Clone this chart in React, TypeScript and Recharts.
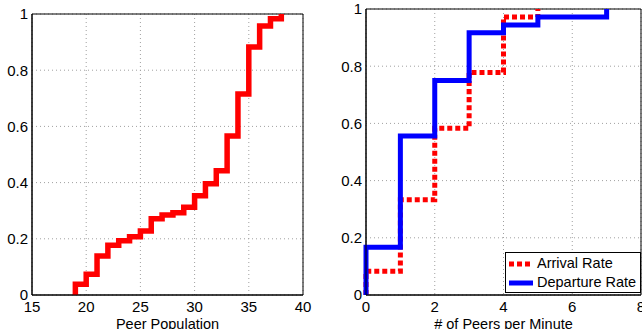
import React from 'react'
import {
  LineChart,
  Line,
  XAxis,
  YAxis,
  CartesianGrid,
  ReferenceArea,
  Legend,
} from 'recharts'

// Peer population CDF (left panel)
const popX = [19, 19, 20, 21, 22, 23, 24, 25, 26, 27, 28, 29, 30, 31, 32, 33, 34, 35, 36, 37, 38]
const popY = [0, 0.038, 0.074, 0.139, 0.177, 0.193, 0.207, 0.228, 0.271, 0.285, 0.293, 0.312, 0.353, 0.396, 0.442, 0.566, 0.715, 0.883, 0.957, 0.983, 1.0]
const popTicks = [15, 20, 25, 30, 35, 40]

// Arrival / departure rate CDFs (right panel)
const arrivalX = [0, 0, 1, 2, 3, 4, 5]
const arrivalY = [0, 0.083, 0.333, 0.583, 0.778, 0.972, 1.0]
const departureX = [0, 0, 1, 2, 3, 4, 5, 7]
const departureY = [0, 0.167, 0.556, 0.75, 0.917, 0.944, 0.972, 1.0]
const rateTicks = [0, 2, 4, 6, 8]

const yTicks = [0, 0.2, 0.4, 0.6, 0.8, 1]

const FONT = '"Liberation Sans", Arial, Helvetica, sans-serif'
const GRID = '#a0a0a0'

const zip = (xs: number[], ys: number[]) => xs.map((x, i) => ({ x, y: ys[i] }))

const popData = zip(popX, popY)
const arrivalData = zip(arrivalX, arrivalY)
const departureData = zip(departureX, departureY)

const tickStyle = { fill: '#000', fontSize: 15, fontFamily: FONT }
const labelStyle = { fill: '#000', fontSize: 14.5, fontFamily: FONT }

const RateLegend: React.FC = () => (
  <div
    style={{
      background: '#fff',
      border: '1px solid #000',
      boxSizing: 'border-box',
      width: 136,
      height: 41,
      fontFamily: FONT,
      fontSize: 14.5,
      color: '#000',
      padding: '1px 0 0 2px',
      lineHeight: '19px',
      whiteSpace: 'nowrap',
    }}
  >
    <div style={{ display: 'flex', alignItems: 'center' }}>
      <svg width={26} height={10} style={{ marginRight: 3 }}>
        <line x1={1} y1={5} x2={25} y2={5} stroke="#ff0000" strokeWidth={5} strokeDasharray="5 3" />
      </svg>
      Arrival Rate
    </div>
    <div style={{ display: 'flex', alignItems: 'center' }}>
      <svg width={26} height={10} style={{ marginRight: 3 }}>
        <line x1={1} y1={5} x2={25} y2={5} stroke="#0000ff" strokeWidth={5} />
      </svg>
      Departure Rate
    </div>
  </div>
)

export default function App() {
  return (
    <div style={{ position: 'absolute', left: 0, top: 0, width: 642, height: 329, background: '#fff', overflow: 'hidden' }}>
      <div style={{ position: 'absolute', left: 0, top: 0 }}>
        <LineChart width={320} height={329} data={popData} margin={{ top: 14, right: 17, left: 0, bottom: 0 }}>
          <CartesianGrid stroke={GRID} strokeDasharray="1 3" />
          <XAxis
            type="number"
            dataKey="x"
            domain={[15, 40]}
            ticks={popTicks}
            interval={0}
            height={34}
            tickLine={false}
            tickSize={4}
            tickMargin={2}
            axisLine={{ stroke: '#000' }}
            tick={tickStyle}
            label={{ value: 'Peer Population', position: 'insideBottom', offset: 0, style: labelStyle }}
          />
          <YAxis
            type="number"
            domain={[0, 1]}
            ticks={yTicks}
            interval={0}
            width={32}
            tickLine={false}
            tickSize={2}
            tickMargin={2}
            axisLine={{ stroke: '#000' }}
            tick={tickStyle}
          />
          <ReferenceArea x1={15} x2={40} y1={0} y2={1} fill="none" stroke="#000" strokeWidth={1} />
          <Line type="stepAfter" dataKey="y" stroke="#ff0000" strokeWidth={5.5} dot={false} isAnimationActive={false} />
        </LineChart>
      </div>
      <div style={{ position: 'absolute', left: 320, top: 0 }}>
        <LineChart width={322} height={329} margin={{ top: 9, right: 1, left: 0, bottom: 0 }}>
          <CartesianGrid stroke={GRID} strokeDasharray="1 3" />
          <XAxis
            type="number"
            dataKey="x"
            domain={[0, 8]}
            ticks={rateTicks}
            interval={0}
            height={34}
            tickLine={false}
            tickSize={4}
            tickMargin={2}
            axisLine={{ stroke: '#000' }}
            tick={tickStyle}
            label={{ value: '# of Peers per Minute', position: 'insideBottom', offset: 0, style: labelStyle }}
          />
          <YAxis
            type="number"
            domain={[0, 1]}
            ticks={yTicks}
            interval={0}
            width={46}
            tickLine={false}
            tickSize={2}
            tickMargin={2}
            axisLine={{ stroke: '#000' }}
            tick={tickStyle}
          />
          <ReferenceArea x1={0} x2={8} y1={0} y2={1} fill="none" stroke="#000" strokeWidth={1} />
          <Line
            data={arrivalData}
            type="stepAfter"
            dataKey="y"
            name="Arrival Rate"
            stroke="#ff0000"
            strokeWidth={5}
            strokeDasharray="5 3"
            dot={false}
            isAnimationActive={false}
          />
          <Line
            data={departureData}
            type="stepAfter"
            dataKey="y"
            name="Departure Rate"
            stroke="#0000ff"
            strokeWidth={5}
            dot={false}
            isAnimationActive={false}
          />
          <Legend
            layout="vertical"
            align="center"
            verticalAlign="middle"
            content={<RateLegend />}
            wrapperStyle={{ position: 'absolute', left: 185, top: 252, width: 136, height: 41, right: 'auto', bottom: 'auto' }}
          />
        </LineChart>
      </div>
    </div>
  )
}
